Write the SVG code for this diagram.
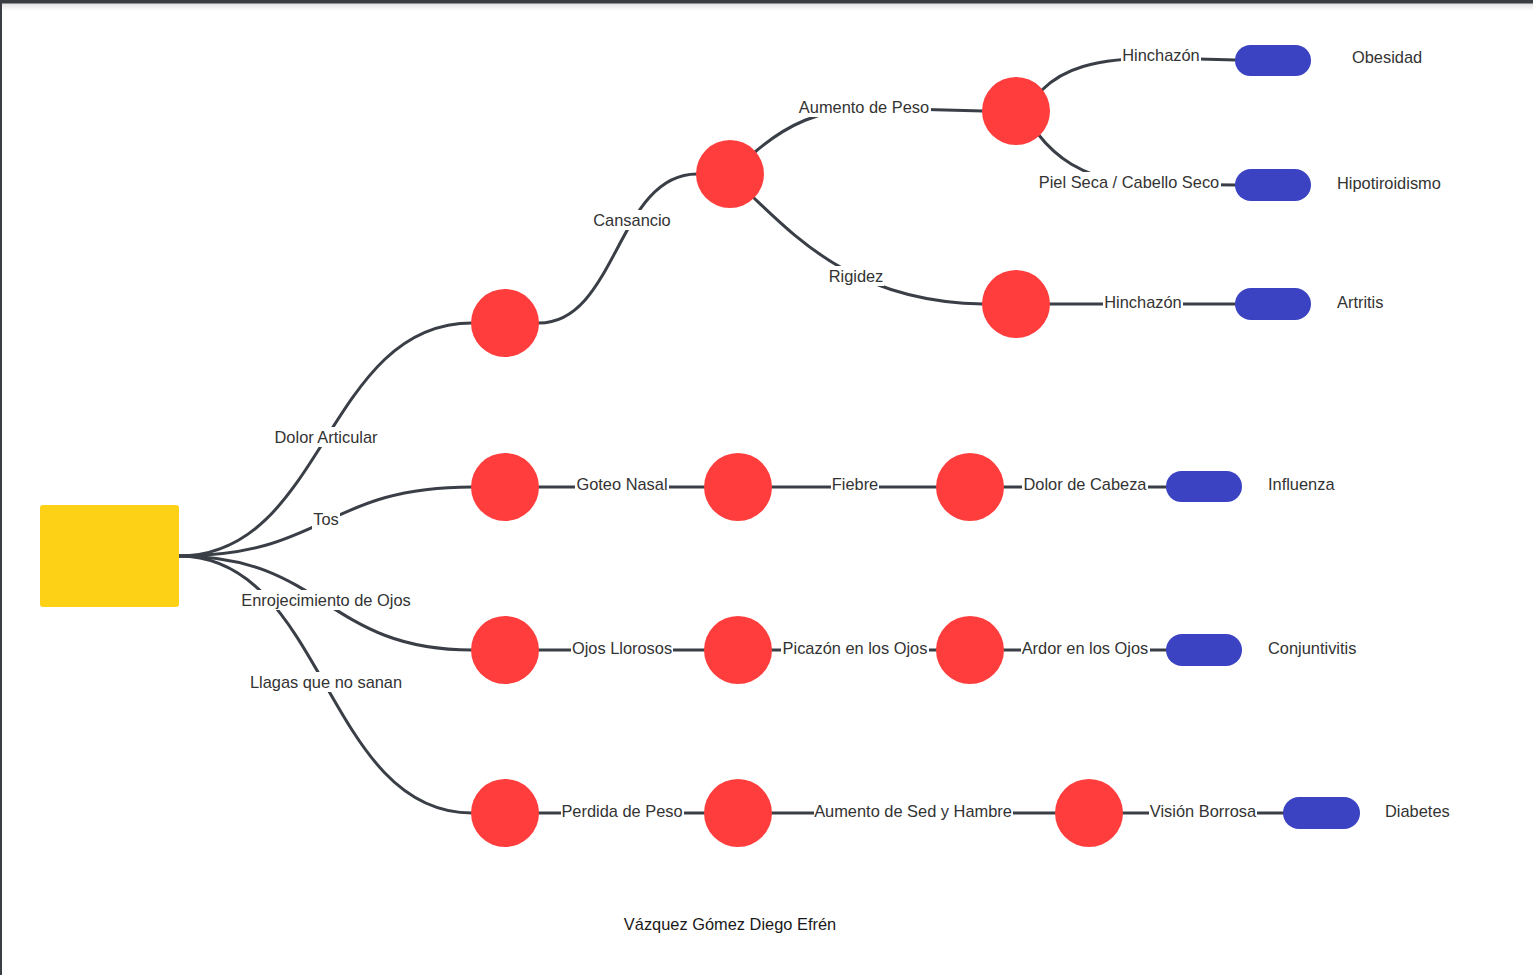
<svg xmlns="http://www.w3.org/2000/svg" width="1533" height="975" viewBox="0 0 1533 975">
<defs>
<style>
.edge{fill:none;stroke:#3a3f47;stroke-width:3;stroke-linecap:round}
.lbg{fill:#ffffff}
.lbl{font-family:"Liberation Sans",Arial,sans-serif;font-size:16.4px;fill:#333333;text-anchor:middle}
.out{font-family:"Liberation Sans",Arial,sans-serif;font-size:16.4px;fill:#333333}
.sym{fill:#ff3d3d}
.dx{fill:#3b43c2}
.root{fill:#fcd116}
</style>
<linearGradient id="sh" x1="0" y1="0" x2="0" y2="1"><stop offset="0" stop-color="#000" stop-opacity="0.12"/><stop offset="1" stop-color="#000" stop-opacity="0"/></linearGradient>
</defs>
<rect x="0" y="0" width="1533" height="975" fill="#ffffff"/>
<rect x="0" y="3" width="1533" height="8" fill="url(#sh)"/>
<rect x="0" y="0" width="1533" height="3.5" fill="#3a3d42"/>
<rect x="0" y="0" width="2" height="975" fill="#3a3d42"/>

<g id="connectors">
<path class="edge" d="M179,556 C325,556 325,323 472,323"/>
<path class="edge" d="M179,556 C325,556 325,487 472,487"/>
<path class="edge" d="M179,556 C325,556 325,650 472,650"/>
<path class="edge" d="M179,556 C325,556 325,813 472,813"/>
<path class="edge" d="M539,323 C617,323 617,174 697,174"/>
<path class="edge" d="M755,152 C785,126 820,108 870,108 L983,111"/>
<path class="edge" d="M754,198 C800,242 860,302 983,304"/>
<path class="edge" d="M1042,90 C1062,70 1092,58 1160,58 L1236,60"/>
<path class="edge" d="M1038,134 C1055,156 1080,176 1129,184 L1236,185"/>
<path class="edge" d="M1016,304 L1236,304"/>
<path class="edge" d="M505,487 L1170,487"/>
<path class="edge" d="M505,650 L1170,650"/>
<path class="edge" d="M505,813 L1287,813"/>

<g><rect class="lbg" x="273" y="427" width="106" height="20"/><text class="lbl" x="326" y="443">Dolor Articular</text></g>
<g><rect class="lbg" x="312" y="509" width="28" height="20"/><text class="lbl" x="326" y="525">Tos</text></g>
<g><rect class="lbg" x="240" y="590" width="172" height="20"/><text class="lbl" x="326" y="606">Enrojecimiento de Ojos</text></g>
<g><rect class="lbg" x="248" y="672" width="155" height="20"/><text class="lbl" x="326" y="688">Llagas que no sanan</text></g>
<g><rect class="lbg" x="593" y="210" width="79" height="20"/><text class="lbl" x="632" y="226">Cansancio</text></g>
<g><rect class="lbg" x="798" y="97" width="133" height="20"/><text class="lbl" x="864" y="113">Aumento de Peso</text></g>
<g><rect class="lbg" x="828" y="266" width="56" height="20"/><text class="lbl" x="856" y="282">Rigidez</text></g>
<g><rect class="lbg" x="1121" y="45" width="80" height="20"/><text class="lbl" x="1161" y="61">Hinchazón</text></g>
<g><rect class="lbg" x="1038" y="172" width="183" height="20"/><text class="lbl" x="1129" y="188">Piel Seca / Cabello Seco</text></g>
<g><rect class="lbg" x="1103" y="292" width="80" height="20"/><text class="lbl" x="1143" y="308">Hinchazón</text></g>
<g><rect class="lbg" x="575" y="474" width="94" height="20"/><text class="lbl" x="622" y="490">Goteo Nasal</text></g>
<g><rect class="lbg" x="831" y="474" width="48" height="20"/><text class="lbl" x="855" y="490">Fiebre</text></g>
<g><rect class="lbg" x="1022" y="474" width="126" height="20"/><text class="lbl" x="1085" y="490">Dolor de Cabeza</text></g>
<g><rect class="lbg" x="571" y="638" width="102" height="20"/><text class="lbl" x="622" y="654">Ojos Llorosos</text></g>
<g><rect class="lbg" x="781" y="638" width="148" height="20"/><text class="lbl" x="855" y="654">Picazón en los Ojos</text></g>
<g><rect class="lbg" x="1021" y="638" width="129" height="20"/><text class="lbl" x="1085" y="654">Ardor en los Ojos</text></g>
<g><rect class="lbg" x="561" y="801" width="123" height="20"/><text class="lbl" x="622" y="817">Perdida de Peso</text></g>
<g><rect class="lbg" x="814" y="801" width="199" height="20"/><text class="lbl" x="913" y="817">Aumento de Sed y Hambre</text></g>
<g><rect class="lbg" x="1149" y="801" width="108" height="20"/><text class="lbl" x="1203" y="817">Visión Borrosa</text></g>
</g>

<g id="root"><rect class="root" x="40" y="505" width="139" height="102" rx="3"/></g>

<g id="n-dolor"><circle class="sym" cx="505" cy="323" r="34"/></g>
<g id="n-cansancio"><circle class="sym" cx="730" cy="174" r="34"/></g>
<g id="n-aumento"><circle class="sym" cx="1016" cy="111" r="34"/></g>
<g id="n-rigidez"><circle class="sym" cx="1016" cy="304" r="34"/></g>
<g id="n-tos"><circle class="sym" cx="505" cy="487" r="34"/></g>
<g id="n-goteo"><circle class="sym" cx="738" cy="487" r="34"/></g>
<g id="n-fiebre"><circle class="sym" cx="970" cy="487" r="34"/></g>
<g id="n-ojos"><circle class="sym" cx="505" cy="650" r="34"/></g>
<g id="n-llorosos"><circle class="sym" cx="738" cy="650" r="34"/></g>
<g id="n-picazon"><circle class="sym" cx="970" cy="650" r="34"/></g>
<g id="n-llagas"><circle class="sym" cx="505" cy="813" r="34"/></g>
<g id="n-perdida"><circle class="sym" cx="738" cy="813" r="34"/></g>
<g id="n-sed"><circle class="sym" cx="1089" cy="813" r="34"/></g>

<g id="d-obesidad"><rect class="dx" x="1235" y="45" width="76" height="31" rx="15.5"/><text class="out" x="1352" y="63">Obesidad</text></g>
<g id="d-hipotiroidismo"><rect class="dx" x="1235" y="169" width="76" height="32" rx="16"/><text class="out" x="1337" y="189">Hipotiroidismo</text></g>
<g id="d-artritis"><rect class="dx" x="1235" y="288" width="76" height="32" rx="16"/><text class="out" x="1337" y="308">Artritis</text></g>
<g id="d-influenza"><rect class="dx" x="1166" y="471" width="76" height="31" rx="15.5"/><text class="out" x="1268" y="490">Influenza</text></g>
<g id="d-conjuntivitis"><rect class="dx" x="1166" y="634" width="76" height="32" rx="16"/><text class="out" x="1268" y="654">Conjuntivitis</text></g>
<g id="d-diabetes"><rect class="dx" x="1283" y="797" width="77" height="32" rx="16"/><text class="out" x="1385" y="817">Diabetes</text></g>

<g id="footer"><text x="730" y="930" font-family="Liberation Sans, Arial, sans-serif" font-size="16.4" fill="#1a1a1a" text-anchor="middle">Vázquez Gómez Diego Efrén</text></g>
</svg>
